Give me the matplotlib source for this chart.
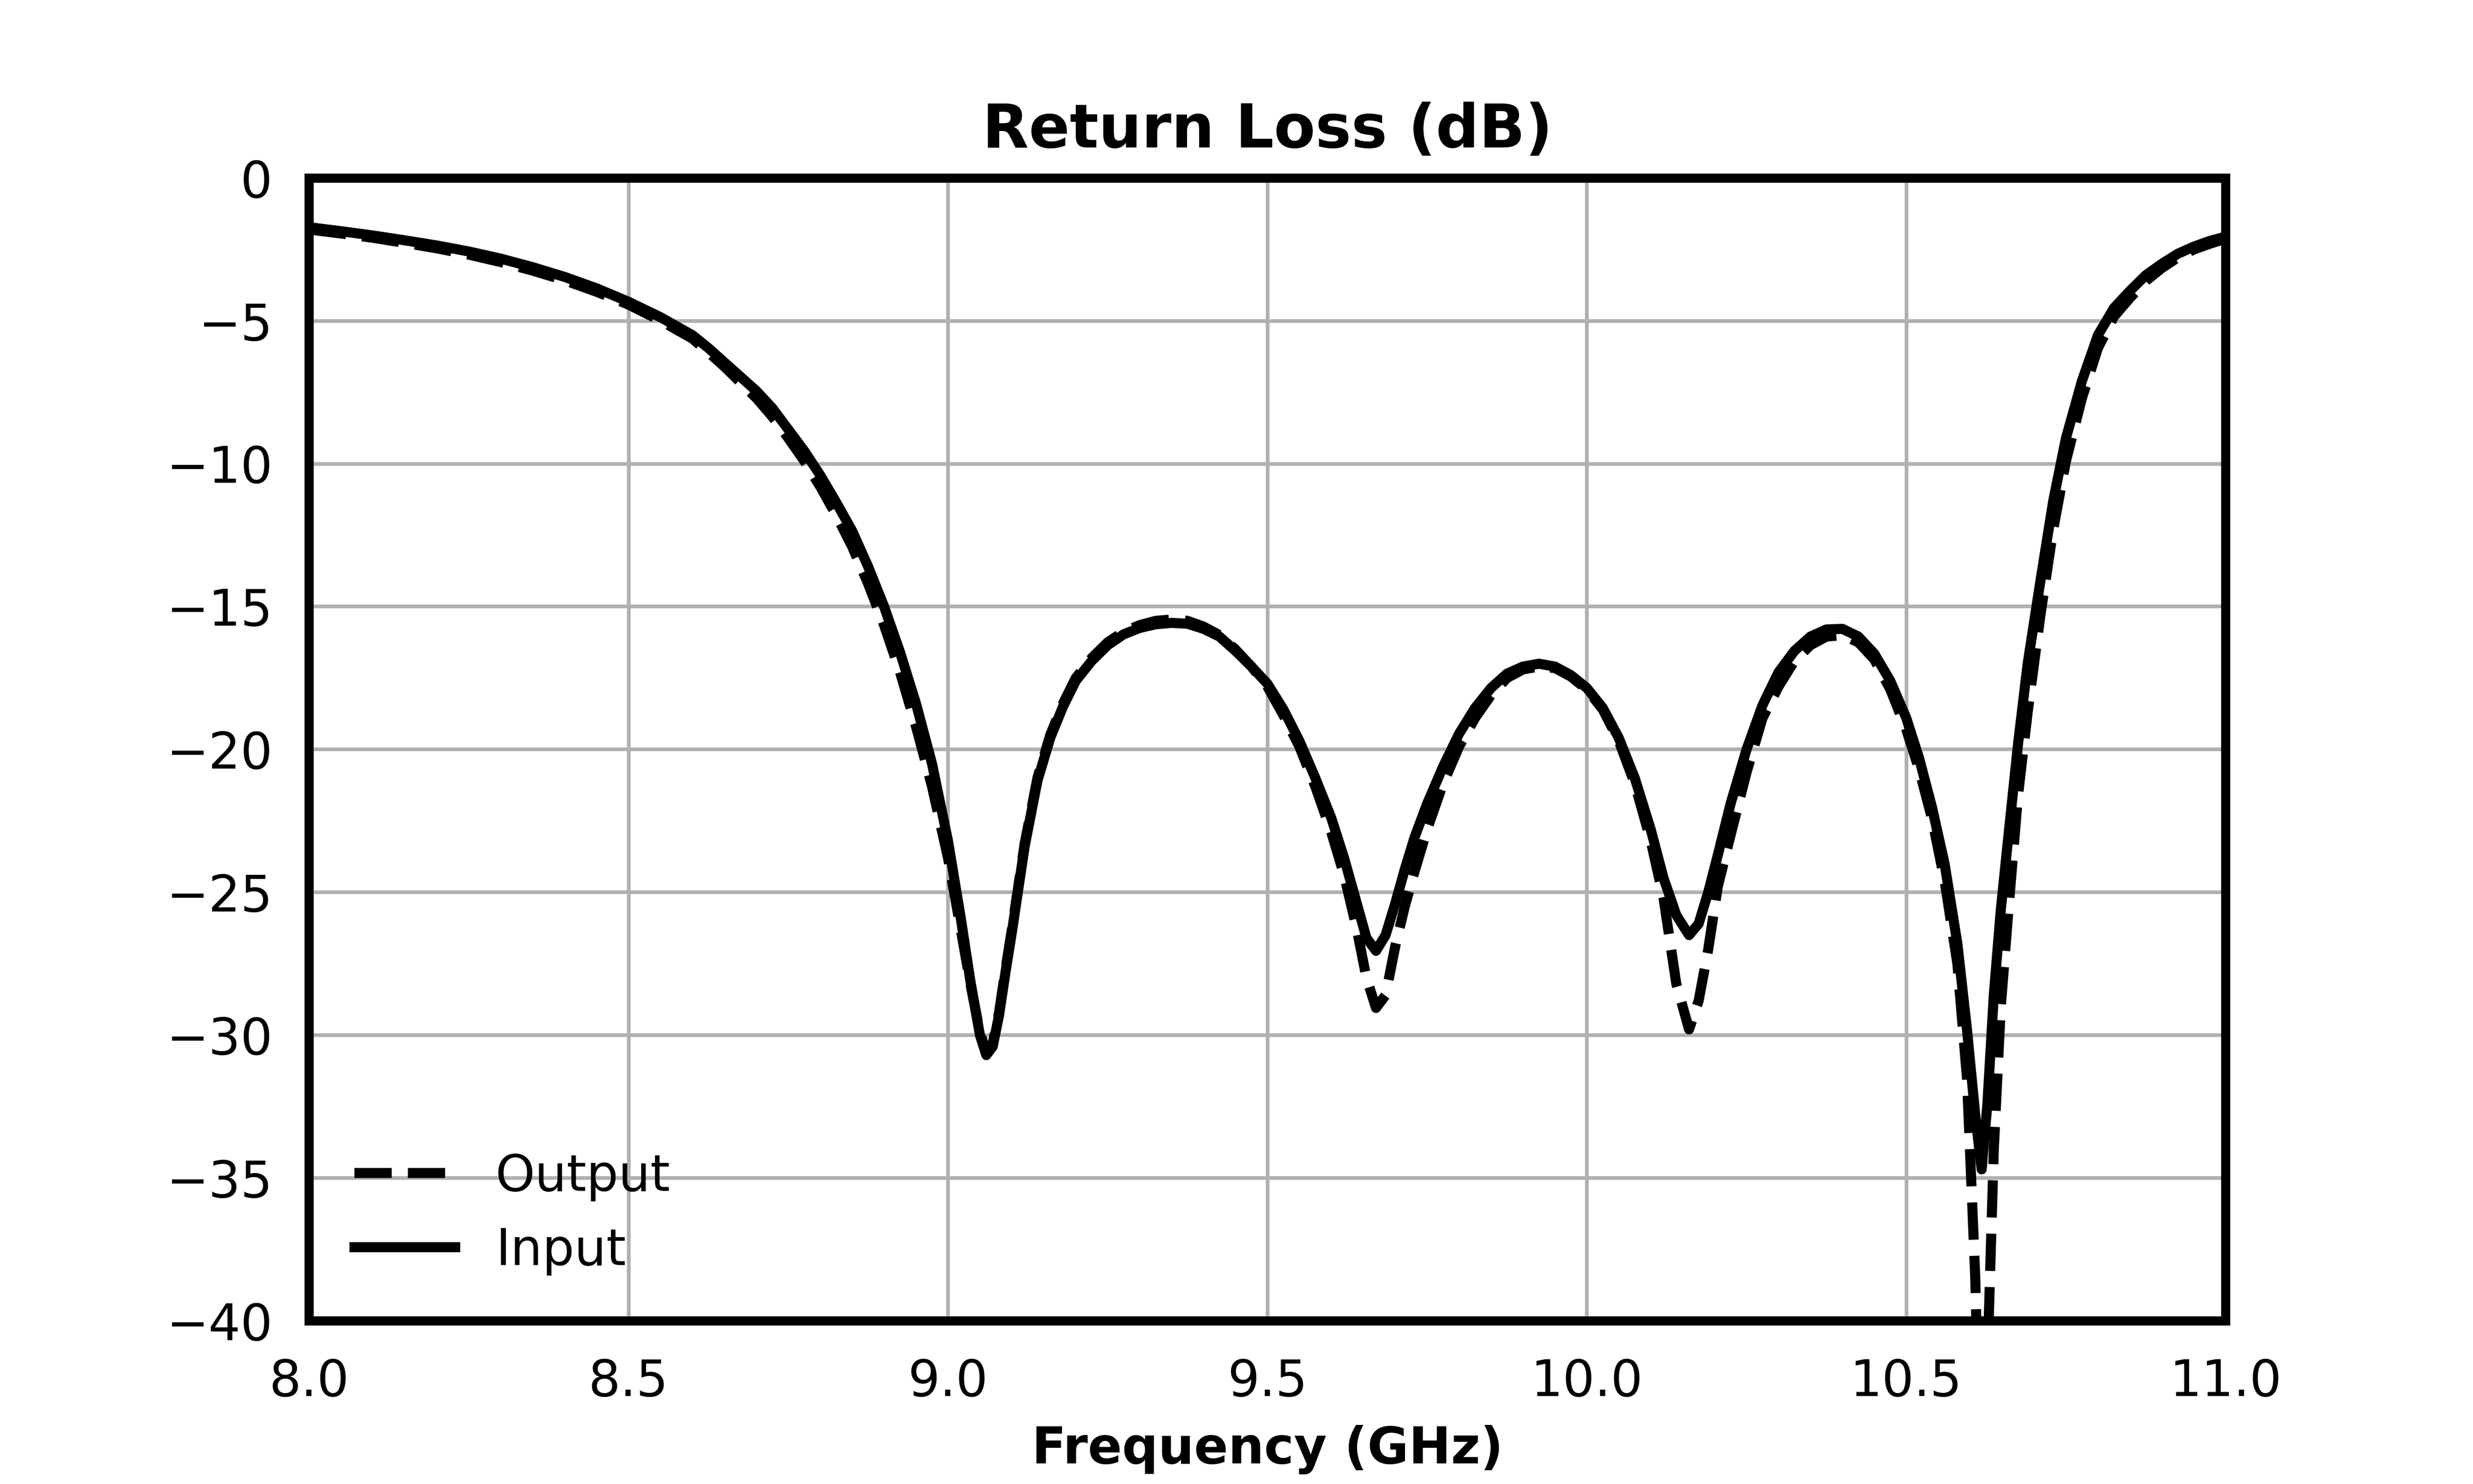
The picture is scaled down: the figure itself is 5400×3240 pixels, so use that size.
import matplotlib
matplotlib.use('Agg')
import matplotlib.pyplot as plt

plt.rcParams['font.size'] = 11

# 주파수 (GHz)
freq = [8.00, 8.05, 8.10, 8.15, 8.20, 8.25, 8.30, 8.35, 8.40, 8.45,
        8.50, 8.55, 8.60, 8.625, 8.65, 8.675, 8.70, 8.725, 8.75, 8.775,
        8.80, 8.825, 8.85, 8.875, 8.90, 8.925, 8.95, 8.975, 9.00, 9.02,
        9.035, 9.05, 9.06, 9.07, 9.08, 9.09, 9.10, 9.12, 9.14, 9.16,
        9.18, 9.20, 9.225, 9.25, 9.275, 9.30, 9.325, 9.35, 9.375, 9.40,
        9.425, 9.45, 9.475, 9.50, 9.525, 9.55, 9.575, 9.60, 9.62, 9.64,
        9.655, 9.67, 9.685, 9.70, 9.715, 9.73, 9.75, 9.775, 9.80, 9.825,
        9.85, 9.875, 9.90, 9.925, 9.95, 9.975, 10.00, 10.025, 10.05, 10.075,
        10.10, 10.12, 10.14, 10.16, 10.175, 10.19, 10.205, 10.225, 10.25, 10.275,
        10.30, 10.325, 10.35, 10.375, 10.40, 10.425, 10.45, 10.475, 10.50, 10.52,
        10.54, 10.56, 10.58, 10.595, 10.608, 10.618, 10.627, 10.637, 10.648, 10.66,
        10.675, 10.69, 10.71, 10.73, 10.75, 10.775, 10.80, 10.825, 10.85, 10.875,
        10.90, 10.925, 10.95, 10.975, 11.00]

# 입력 반사손실 (dB)
s11 = [-1.72, -1.86, -2.01, -2.18, -2.36, -2.57, -2.82, -3.12, -3.46, -3.86,
       -4.33, -4.87, -5.50, -5.95, -6.45, -6.95, -7.45, -8.05, -8.80, -9.55,
       -10.4, -11.35, -12.35, -13.6, -15.0, -16.6, -18.4, -20.5, -23.2, -25.9,
       -28.1, -30.0, -30.7, -30.4, -29.3, -27.8, -26.4, -23.4, -21.1, -19.6,
       -18.5, -17.6, -16.9, -16.35, -15.97, -15.75, -15.62, -15.57, -15.6, -15.78,
       -16.05, -16.55, -17.1, -17.7, -18.6, -19.7, -21.0, -22.4, -23.8, -25.4,
       -26.6, -27.05, -26.5, -25.4, -24.2, -23.1, -21.9, -20.6, -19.45, -18.55,
       -17.85, -17.35, -17.1, -17.0, -17.1, -17.4, -17.85, -18.55, -19.6, -21.0,
       -22.8, -24.5, -25.8, -26.5, -26.1, -25.0, -23.7, -21.9, -20.0, -18.45,
       -17.3, -16.55, -16.05, -15.8, -15.78, -16.05, -16.65, -17.6, -18.9, -20.3,
       -22.0, -24.0, -26.8, -29.8, -32.8, -34.7, -32.4, -28.6, -25.6, -23.0,
       -19.8, -17.0, -14.1, -11.3, -9.1, -7.1, -5.5, -4.55, -3.95, -3.4,
       -3.0, -2.65, -2.4, -2.2, -2.05]

# 출력 반사손실 (dB)
s22 = [-1.80, -1.94, -2.09, -2.27, -2.46, -2.68, -2.94, -3.24, -3.58, -3.98,
       -4.43, -4.99, -5.62, -6.10, -6.60, -7.15, -7.70, -8.35, -9.10, -9.90,
       -10.8, -11.8, -12.9, -14.2, -15.65, -17.3, -19.2, -21.3, -23.8, -26.3,
       -28.2, -29.9, -30.6, -30.3, -29.2, -27.7, -26.3, -23.3, -21.0, -19.5,
       -18.4, -17.5, -16.8, -16.25, -15.88, -15.65, -15.5, -15.45, -15.5, -15.7,
       -16.0, -16.5, -17.1, -17.8, -18.8, -19.9, -21.3, -22.9, -24.4, -26.3,
       -28.0, -29.05, -28.6, -26.9, -25.5, -24.3, -22.8, -21.2, -19.9, -18.9,
       -18.1, -17.5, -17.2, -17.1, -17.15, -17.45, -17.9, -18.6, -19.7, -21.2,
       -23.2, -25.2, -28.2, -29.8, -28.8, -27.0, -24.8, -23.0, -20.8, -18.9,
       -17.8, -16.9, -16.35, -16.05, -16.0, -16.25, -16.85, -17.9, -19.3, -20.7,
       -22.4, -24.6, -27.5, -31.5, -38.5, -48.0, -41.5, -34.0, -29.0, -25.6,
       -21.6, -18.7, -15.3, -12.3, -9.9, -7.7, -5.95, -4.85, -4.2, -3.6,
       -3.15, -2.78, -2.5, -2.3, -2.12]

fig, ax = plt.subplots(figsize=(7.5, 4.5), dpi=720)

ax.plot(freq, s22, color='black', linestyle='--', linewidth=2.2, label='Output')
ax.plot(freq, s11, color='black', linestyle='-', linewidth=2.2, label='Input')

ax.set_xlim(8.0, 11.0)
ax.set_ylim(-40, 0)
ax.set_xticks([8.0, 8.5, 9.0, 9.5, 10.0, 10.5, 11.0])
ax.set_yticks([0, -5, -10, -15, -20, -25, -30, -35, -40])
ax.grid(True, color='#b0b0b0', linewidth=0.8)
ax.set_axisbelow(True)
ax.tick_params(length=0, pad=8)
for sp in ax.spines.values():
    sp.set_linewidth(2)

ax.set_title('Return Loss (dB)', fontweight='bold', pad=6.7)
ax.set_xlabel('Frequency (GHz)', fontweight='bold')
ax.legend(loc='lower left', frameon=False)

plt.savefig('out.png', dpi=720)
